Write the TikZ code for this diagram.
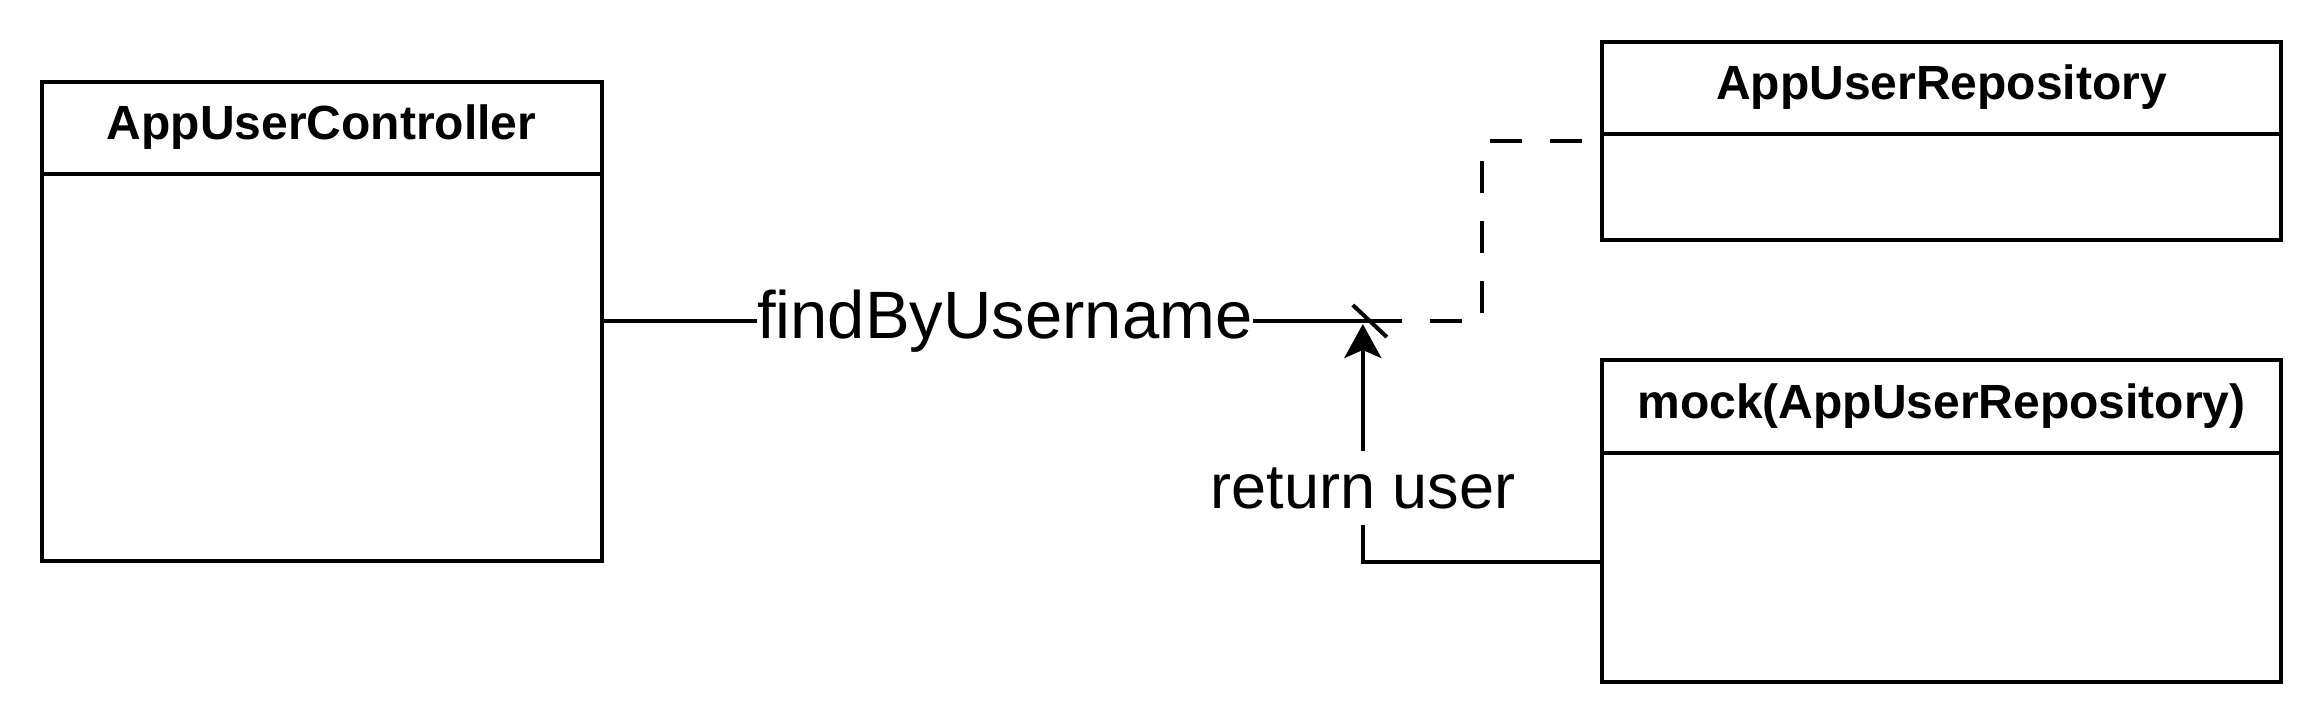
\documentclass[tikz,border=0pt]{standalone}
\usepackage{fontspec}
\setmainfont{Liberation Sans}
\usetikzlibrary{arrows.meta,calc}
\begin{document}
\begin{tikzpicture}[x=1pt,y=-1pt,line width=4pt,
  classbox/.style={draw,rectangle,inner sep=0pt,outer sep=0pt,anchor=north west},
  classtitle/.style={font=\fontsize{48}{58}\selectfont\bfseries,inner sep=0pt},
  lbl/.style={font=\fontsize{64}{77}\selectfont,fill=white,inner xsep=0pt,inner ysep=16pt},
  dashedge/.style={dash pattern=on 32pt off 28pt},
  retarrow/.style={-{Stealth[length=34pt,width=37pt,inset=8pt]}}]
\useasboundingbox (0,0) rectangle (2324,724);
% classes
\node[classbox,minimum width=560pt,minimum height=479pt] (ctrl) at (41.5,81.5) {};
\draw ([yshift=-92pt]ctrl.north west) -- ([yshift=-92pt]ctrl.north east);
\node[classtitle] (ctrlT) at ([yshift=-46pt]ctrl.north) {AppUserController};

\node[classbox,minimum width=679pt,minimum height=198.5pt] (repo) at (1602,41.5) {};
\draw ([yshift=-92pt]repo.north west) -- ([yshift=-92pt]repo.north east);
\node[classtitle] (repoT) at ([yshift=-46pt]repo.north) {AppUserRepository};

\node[classbox,minimum width=679pt,minimum height=321.7pt] (mock) at (1602,360) {};
\draw ([yshift=-93pt]mock.north west) -- ([yshift=-93pt]mock.north east);
\node[classtitle] (mockT) at ([yshift=-46.5pt]mock.north) {mock(AppUserRepository)};

% call edge
\coordinate (xpt) at ($(ctrl.east)+(768.3,0)$);
\coordinate (bend) at ($(xpt)+(112,0)$);
\draw (ctrl.east) -- node[lbl,pos=0.525,font=\fontsize{67}{80}\selectfont] (callL) {findByUsername} (xpt);
\draw ($(xpt)+(-17,-16)$) -- ($(xpt)+(17,16)$);
\draw[dashedge] (xpt) -- (bend) |- (repo.west);

% return edge
\coordinate (rtip) at ($(xpt)+(-7,3)$);
\coordinate (rport) at ([yshift=-41pt]mock.west);
\draw[retarrow] (rport) -| node[lbl,pos=0.655,font=\fontsize{63}{76}\selectfont] (retL) {return user} (rtip);
\end{tikzpicture}
\end{document}
